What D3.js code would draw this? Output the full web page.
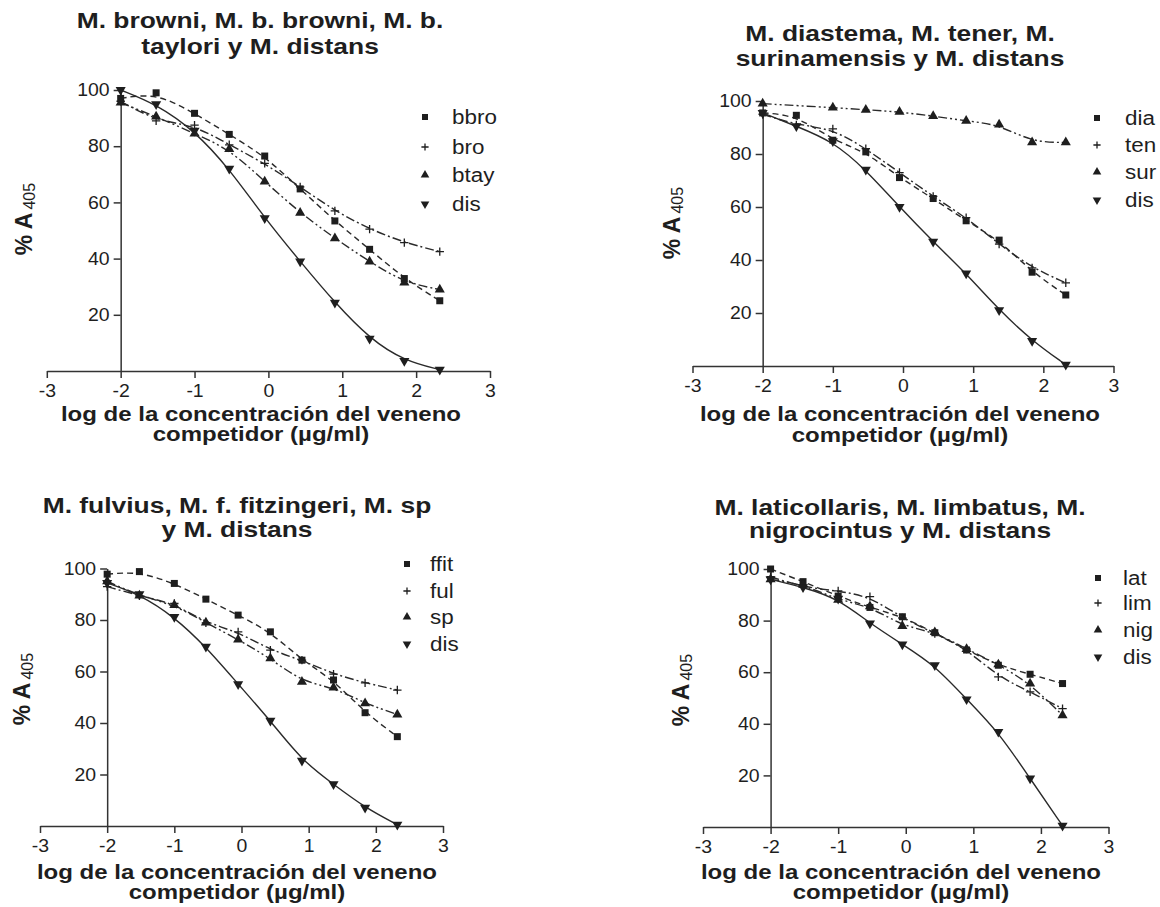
<!DOCTYPE html>
<html>
<head>
<meta charset="utf-8">
<script src="https://cdn.jsdelivr.net/npm/d3@7"></script>
<style>
  body { margin: 0; background: #fff; }
  text { font-family: "Liberation Sans", Arial, sans-serif; fill: #1e1e1e; }
</style>
</head>
<body>
<script>
// concentraciones (log) comunes a todos los paneles
var logConc = [-2, -1.52, -1, -0.53, -0.05, 0.43, 0.9, 1.37, 1.84, 2.32];
var xTicks = [-3, -2, -1, 0, 1, 2, 3];
var yTicks = [20, 40, 60, 80, 100];

// panel 1
var bbro = [97, 99, 91.7, 84.2, 76.5, 64.8, 53.4, 43.3, 32.9, 25];
var bro  = [96, 89, 87.5, 80.5, 73.9, 65.5, 57, 50.5, 45.7, 42.5];
var btay = [95.5, 90.5, 84.5, 79, 67.4, 56.3, 47.2, 38.9, 31.5, 29];
var dis1 = [100, 95, 85.5, 72, 54.4, 39, 24.3, 11.5, 3.6, 0.5];

// panel 2
var dia  = [95.5, 94.6, 85.2, 80.8, 71.1, 63.2, 54.8, 47.5, 35.4, 26.8];
var ten  = [95, 91, 89.5, 82, 73, 64, 56, 46, 37, 31.4];
var sur  = [99, null, 97.5, 96.7, 95.9, 94.3, 92.5, 91.1, 84.4, 84.4];
var dis2 = [95.5, 90.5, 84.8, 74.1, 60, 46.9, 34.9, 21.1, 9.5, 0.5];

// panel 3
var ffit = [97.8, 98.8, 94.2, 88.1, 81.9, 75.4, 64.4, 56.7, 44, 34.7];
var ful  = [93, 89.4, 86.4, 78.9, 75.4, 68.3, 64.4, 59, 55.6, 52.8];
var sp   = [95, 89.5, 85.8, 79, 72.4, 65.1, 56, 53.8, 47.6, 43.3];
var dis3 = [94.4, 90, 81.2, 69.6, 55.1, 40.9, 25.4, 16.2, 7.1, 0.5];

// panel 4
var lat  = [100, 95.1, 89.5, 85.1, 81.5, 75.3, 68.6, 62.7, 59.2, 55.6];
var lim  = [97, 93, 91.5, 89.3, 81, 75, 69, 58.2, 52.4, 45.9];
var nig  = [96, 94, 88, 85.5, 77.9, 75.5, 69, 63, 55.6, 43.3];
var dis4 = [96, 93, 88.5, 78.9, 70.8, 62.7, 49.5, 36.9, 18.8, 0.5];

var panels = [
  { title: ["M. browni, M. b. browni, M. b.", "taylori y M. distans"],
    names: ["bbro", "bro", "btay", "dis"], series: [bbro, bro, btay, dis1],
    xTitle: ["log de la concentración del veneno", "competidor (µg/ml)"] },
  { title: ["M. diastema, M. tener, M.", "surinamensis y M. distans"],
    names: ["dia", "ten", "sur", "dis"], series: [dia, ten, sur, dis2],
    xTitle: ["log de la concentración del veneno", "competidor (µg/ml)"] },
  { title: ["M. fulvius, M. f. fitzingeri, M. sp", "y M. distans"],
    names: ["ffit", "ful", "sp", "dis"], series: [ffit, ful, sp, dis3],
    xTitle: ["log de la concentración del veneno", "competidor (µg/ml)"] },
  { title: ["M. laticollaris, M. limbatus, M.", "nigrocintus y M. distans"],
    names: ["lat", "lim", "nig", "dis"], series: [lat, lim, nig, dis4],
    xTitle: ["log de la concentración del veneno", "competidor  (µg/ml)"] }
];

// layout of each panel on the page
var frames = [
  { x0: 46.8, x1: 490, y0: 371, y1: 90, tx: 260, ty: [28, 54], xt: 261, xty: [421, 441],
    yt: [24, 219], lx: 425, ltx: 452, ly: [117, 147, 175, 204] },
  { x0: 692.5, x1: 1113.5, y0: 366, y1: 101, tx: 900, ty: [41, 66], xt: 900, xty: [421, 442],
    yt: [672, 223], lx: 1097, ltx: 1125, ly: [118, 145, 172, 200] },
  { x0: 40, x1: 443, y0: 826, y1: 568.5, tx: 237, ty: [513, 537], xt: 237, xty: [879, 899],
    yt: [22, 689], lx: 407, ltx: 430, ly: [564, 591, 617, 644] },
  { x0: 703, x1: 1108.5, y0: 827, y1: 569, tx: 900, ty: [515, 538], xt: 901, xty: [879, 899],
    yt: [681, 690], lx: 1098, ltx: 1123, ly: [578, 603, 630, 657] }
];

var dashes = ["6,4", "9,3,2,3", "9,3,2,3,2,3", null];
var ink = "#1e1e1e";

var svg = d3.select("body").append("svg")
  .attr("width", 1160)
  .attr("height", 907);

// the scanned figure is wider than a normal font, stretch text a bit
function stretch(sel, k) {
  sel.each(function() {
    var w = this.getComputedTextLength();
    d3.select(this).attr("textLength", w * k).attr("lengthAdjust", "spacingAndGlyphs");
  });
}

function marker(g, kind, x, y, s) {
  if (kind == 0) {
    g.append("rect").attr("x", x - s / 2).attr("y", y - s / 2)
      .attr("width", s).attr("height", s).style("fill", ink);
  } else if (kind == 1) {
    var h = s * 0.6;
    g.append("path")
      .attr("d", "M" + (x - h) + "," + y + "H" + (x + h) + "M" + x + "," + (y - h) + "V" + (y + h))
      .style("stroke", ink).style("stroke-width", 1.3).style("fill", "none");
  } else {
    var sym = d3.symbol().type(d3.symbolTriangle).size(s * s * 0.9);
    g.append("path").attr("d", sym())
      .attr("transform", "translate(" + x + "," + y + ")" + (kind == 3 ? " rotate(180)" : ""))
      .style("fill", ink);
  }
}

panels.forEach(function(p, pi) {
  var f = frames[pi];
  var g = svg.append("g");

  var x = d3.scaleLinear().domain([-3, 3]).range([f.x0, f.x1]);
  var y = d3.scaleLinear().domain([0, 100]).range([f.y0, f.y1]);

  // x axis
  var xa = g.append("g")
    .attr("transform", "translate(0," + f.y0 + ")")
    .call(d3.axisBottom(x).tickValues(xTicks).tickSize(7).tickSizeOuter(0).tickPadding(6)
      .tickFormat(function(d) { return String(d); }));
  // y axis at x = -2
  var ya = g.append("g")
    .attr("transform", "translate(" + x(-2) + ",0)")
    .call(d3.axisLeft(y).tickValues(yTicks).tickSize(7).tickSizeOuter(0).tickPadding(4)
      .tickFormat(function(d) { return String(d); }));
  [xa, ya].forEach(function(a) {
    a.select(".domain").style("stroke", "#333").style("stroke-width", 1.5);
    a.selectAll(".tick line").style("stroke", "#333").style("stroke-width", 1.5);
    a.selectAll(".tick text").style("font-size", "18px").style("fill", ink)
      .style("font-family", "'Liberation Sans', Arial, sans-serif");
    stretch(a.selectAll(".tick text"), 1.08);
  });

  // curves and points
  p.series.forEach(function(vals, si) {
    var pts = [];
    vals.forEach(function(v, i) {
      if (v != null) pts.push([logConc[i], v]);
    });
    var line = d3.line()
      .x(function(d) { return x(d[0]); })
      .y(function(d) { return y(d[1]); })
      .curve(d3.curveBasis);
    g.append("path")
      .attr("d", line(pts))
      .style("fill", "none")
      .style("stroke", "#2a2a2a")
      .style("stroke-width", 1.4)
      .style("stroke-dasharray", dashes[si]);
    pts.forEach(function(d) {
      marker(g, si, x(d[0]), y(d[1]), 7);
    });
  });

  // legend
  p.names.forEach(function(n, si) {
    marker(g, si, f.lx, f.ly[si], 6);
    var t = g.append("text")
      .attr("x", f.ltx)
      .attr("y", f.ly[si] + 7)
      .style("font-size", "20px")
      .text(n);
    stretch(t, 1.12);
  });

  // title
  p.title.forEach(function(line, li) {
    var t = g.append("text")
      .attr("x", f.tx).attr("y", f.ty[li])
      .attr("text-anchor", "middle")
      .style("font-size", "22px").style("font-weight", "bold")
      .text(line);
    stretch(t, 1.2);
  });

  // x title
  p.xTitle.forEach(function(line, li) {
    var t = g.append("text")
      .attr("x", f.xt).attr("y", f.xty[li])
      .attr("text-anchor", "middle")
      .style("font-size", "20px").style("font-weight", "bold")
      .text(line);
    stretch(t, 1.2);
  });

  // y title
  var yt = g.append("text")
    .attr("transform", "translate(" + (f.yt[0] + 8) + "," + f.yt[1] + ") rotate(-90)")
    .attr("text-anchor", "middle")
    .style("font-size", "23px").style("font-weight", "bold");
  yt.append("tspan").text("% A");
  yt.append("tspan").attr("dx", 3).attr("dy", 3)
    .style("font-size", "16px").style("font-weight", "normal").text("405");
});
</script>
</body>
</html>
